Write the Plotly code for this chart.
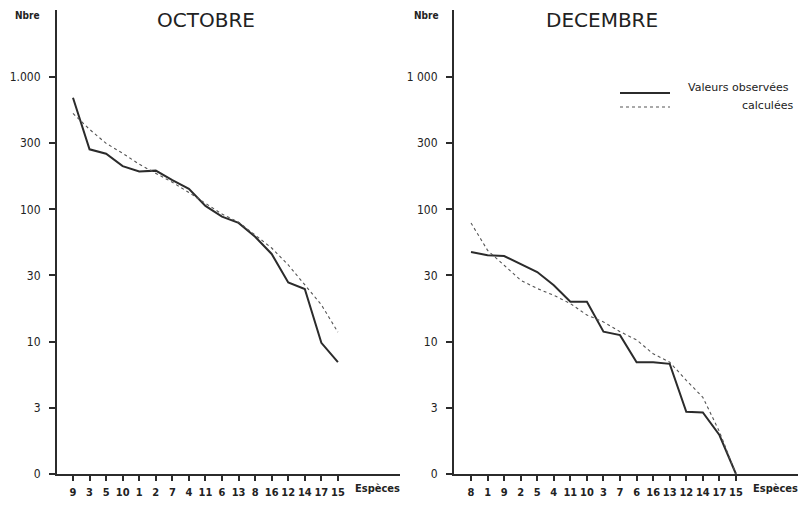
import plotly.graph_objects as go

# ---------------- data ----------------
species_oct = ["9", "3", "5", "10", "1", "2", "7", "4", "11", "6", "13", "8", "16", "12", "14", "17", "15"]
observed_oct = [697, 284, 263, 212, 193, 196, 166, 143, 106, 88, 79, 62, 46, 28, 25, 9.8, 7.0]
computed_oct = [530, 402, 315, 265, 219, 187, 160, 134, 111, 92, 80, 64, 51, 38, 27, 19, 11.8]

species_dec = ["8", "1", "9", "2", "5", "4", "11", "10", "3", "7", "6", "16", "13", "12", "14", "17", "15"]
observed_dec = [47.6, 45, 44.4, 38.9, 33.6, 26.7, 20, 20, 11.9, 11.2, 7.0, 7.0, 6.8, 2.95, 2.92, 1.97, 1.0]
computed_dec = [78.8, 49, 37.8, 29.1, 25.2, 22.4, 19.4, 15.9, 14.1, 11.9, 10.3, 8.1, 7.0, 5.1, 3.8, 2.09, 1.0]

y_tickvals = [1, 10 ** 0.5, 10, 10 ** 1.5, 100, 10 ** 2.5, 1000]
y_ticktext_oct = ["0", "3", "10", "30", "100", "300", "1.000"]
y_ticktext_dec = ["0", "3", "10", "30", "100", "300", "1 000"]

titles = ["OCTOBRE", "DECEMBRE"]
legend_labels = ["Valeurs observées", "calculées"]
x_label = "Espèces"
y_label = "Nbre"

# ---------------- figure ----------------
# the page body has an 8px margin, so the figure is drawn at (8, 8) of the window
OFF = 8
W, H = 806 - OFF, 505 - OFF
INK = "#2b2b2b"
FONT = "DejaVu Sans Condensed, DejaVu Sans, sans-serif"
PLAIN = "DejaVu Sans, sans-serif"

fig = go.Figure()

fig.add_trace(go.Scatter(x=species_oct, y=observed_oct, mode="lines",
                         line=dict(color=INK, width=2), xaxis="x", yaxis="y", showlegend=False))
fig.add_trace(go.Scatter(x=species_oct, y=computed_oct, mode="lines",
                         line=dict(color="#555555", width=1.1, dash="dot"), xaxis="x", yaxis="y", showlegend=False))
fig.add_trace(go.Scatter(x=species_dec, y=observed_dec, mode="lines",
                         line=dict(color=INK, width=2), xaxis="x2", yaxis="y2", showlegend=False))
fig.add_trace(go.Scatter(x=species_dec, y=computed_dec, mode="lines",
                         line=dict(color="#555555", width=1.1, dash="dot"), xaxis="x2", yaxis="y2", showlegend=False))

def px_x(p):
    return (p - OFF) / W

def px_y(p):
    return 1 - (p - OFF) / H

ydom = [px_y(474), px_y(10)]

xcommon = dict(type="category", showgrid=False, zeroline=False, showline=True, automargin=False,
               linecolor=INK, linewidth=2, ticks="outside", ticklen=5, tickwidth=1.5,
               tickcolor=INK, tickangle=0,
               tickfont=dict(family=FONT, size=11, color="#222", weight="bold"),
               ticklabelstandoff=2)
ycommon = dict(type="log", range=[0, 3.506], showgrid=False, zeroline=False, showline=True,
               automargin=False,
               linecolor=INK, linewidth=2, ticks="outside", ticklen=6, tickwidth=1.5,
               tickcolor=INK, tickvals=y_tickvals, tickfont=dict(family=FONT, size=12, color="#222"),
               ticklabelstandoff=6, domain=ydom)

fig.update_layout(
    width=W, height=H,
    margin=dict(l=0, r=0, t=0, b=0),
    paper_bgcolor="white", plot_bgcolor="white",
    xaxis=dict(xcommon, domain=[px_x(57), px_x(400)], range=[-0.966, 19.75],
               categoryorder="array", categoryarray=species_oct, anchor="y"),
    yaxis=dict(ycommon, ticktext=y_ticktext_oct, anchor="x"),
    xaxis2=dict(xcommon, domain=[px_x(454), 1.0], range=[-1.027, 20.23],
                categoryorder="array", categoryarray=species_dec, anchor="y2"),
    yaxis2=dict(ycommon, ticktext=y_ticktext_dec, anchor="x2"),
)

ann = []
# titles
for txt, cx in zip(titles, [206, 602]):
    ann.append(dict(text=txt, x=px_x(cx), y=px_y(20), xref="paper", yref="paper",
                    showarrow=False, xanchor="center", yanchor="middle",
                    font=dict(family=PLAIN, size=20, color="#222")))
# y labels
for cx in [27, 426]:
    ann.append(dict(text=y_label, x=px_x(cx), y=px_y(16), xref="paper", yref="paper",
                    showarrow=False, xanchor="center", yanchor="middle",
                    font=dict(family=FONT, size=10, color="#222", weight="bold")))
# x labels
for lx in [353, 751]:
    ann.append(dict(text=x_label, x=px_x(lx), y=px_y(488), xref="paper", yref="paper",
                    showarrow=False, xanchor="left", yanchor="middle",
                    font=dict(family=FONT, size=11, color="#222", weight="bold")))
# legend texts
ann.append(dict(text=legend_labels[0], x=px_x(686), y=px_y(88), xref="paper", yref="paper",
                showarrow=False, xanchor="left", yanchor="middle",
                font=dict(family=PLAIN, size=11, color="#222")))
ann.append(dict(text=legend_labels[1], x=px_x(795), y=px_y(106), xref="paper", yref="paper",
                showarrow=False, xanchor="right", yanchor="middle",
                font=dict(family=PLAIN, size=11, color="#222")))
fig.update_layout(annotations=ann)

fig.update_layout(shapes=[
    dict(type="line", xref="paper", yref="paper", x0=px_x(620), x1=px_x(670),
         y0=px_y(93), y1=px_y(93), line=dict(color=INK, width=2)),
    dict(type="line", xref="paper", yref="paper", x0=px_x(620), x1=px_x(670),
         y0=px_y(107), y1=px_y(107), line=dict(color="#555555", width=1.1, dash="dot")),
])

fig.write_html("out.html")
